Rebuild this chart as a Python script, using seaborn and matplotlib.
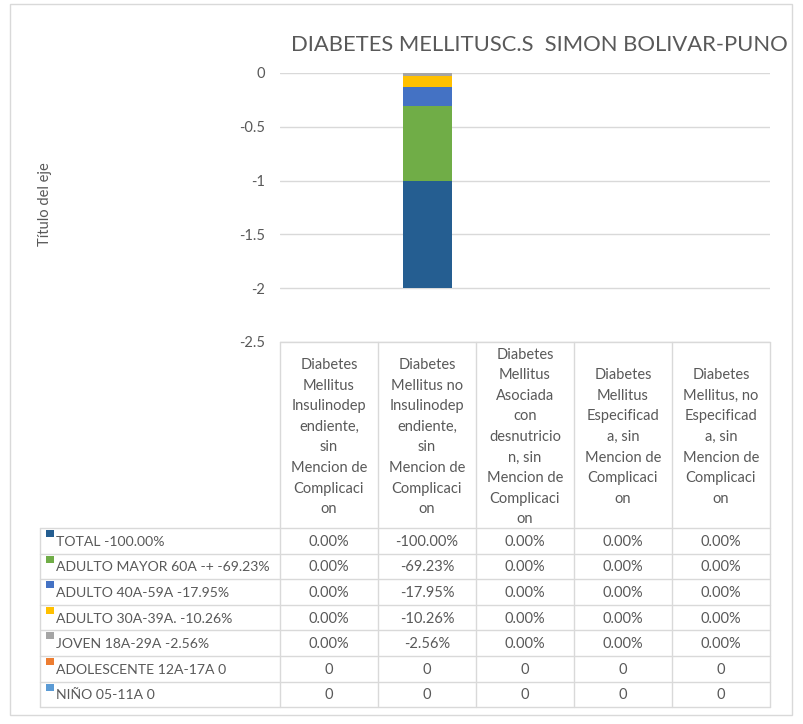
import numpy as np
import pandas as pd
import matplotlib
matplotlib.use("Agg")
import matplotlib.pyplot as plt
import matplotlib.transforms as mtransforms
from matplotlib.lines import Line2D
from matplotlib.patches import Rectangle
import seaborn as sns

titulo = "DIABETES MELLITUSC.S  SIMON BOLIVAR-PUNO"
eje_y = "Título del eje"

# etiquetas de categoria (con los cortes de linea de la tabla)
categorias = [
    "Diabetes\nMellitus\nInsulinodep\nendiente,\nsin\nMencion de\nComplicaci\non",
    "Diabetes\nMellitus no\nInsulinodep\nendiente,\nsin\nMencion de\nComplicaci\non",
    "Diabetes\nMellitus\nAsociada\ncon\ndesnutricio\nn, sin\nMencion de\nComplicaci\non",
    "Diabetes\nMellitus\nEspecificad\na, sin\nMencion de\nComplicaci\non",
    "Diabetes\nMellitus, no\nEspecificad\na, sin\nMencion de\nComplicaci\non",
]

series = ["TOTAL -100.00%", "ADULTO MAYOR 60A -+ -69.23%", "ADULTO 40A-59A -17.95%",
          "ADULTO 30A-39A. -10.26%", "JOVEN 18A-29A -2.56%",
          "ADOLESCENTE 12A-17A 0", "NIÑO 05-11A 0"]

total = [0.0, -1.0, 0.0, 0.0, 0.0]
adulto_mayor = [0.0, -0.6923, 0.0, 0.0, 0.0]
adulto_40_59 = [0.0, -0.1795, 0.0, 0.0, 0.0]
adulto_30_39 = [0.0, -0.1026, 0.0, 0.0, 0.0]
joven = [0.0, -0.0256, 0.0, 0.0, 0.0]
adolescente = [0, 0, 0, 0, 0]
nino = [0, 0, 0, 0, 0]

es_porcentaje = [True, True, True, True, True, False, False]
colores = ["#255E91", "#70AD47", "#4472C4", "#FFC000", "#A5A5A5", "#ED7D31", "#5B9BD5"]

y_ticks = [0, -0.5, -1, -1.5, -2, -2.5]
y_labels = ["0", "-0.5", "-1", "-1.5", "-2", "-2.5"]

sns.set_style("white")
plt.rcParams["font.family"] = ["Lato", "DejaVu Sans"]
gris = "#595959"
linea = "#D9D9D9"

W, H = 804, 724
fig = plt.figure(figsize=(W / 100, H / 100), dpi=100)

# marco del grafico
fig.add_artist(Rectangle((10 / W, 1 - 715 / H), 782 / W, 711 / H, transform=fig.transFigure,
                         fill=False, edgecolor=linea, linewidth=1))

ax = fig.add_axes([280 / W, 1 - 342 / H, 490 / W, 269 / H])

valores = np.array([total, adulto_mayor, adulto_40_59, adulto_30_39, joven, adolescente, nino], dtype=float)
# Excel apila desde la ultima serie (NIÑO) hacia abajo
acumulado = np.cumsum(valores[::-1], axis=0)[::-1]

for i in range(len(series)):
    df = pd.DataFrame({"cat": np.arange(len(categorias)), "valor": acumulado[i]})
    sns.barplot(data=df, x="cat", y="valor", color=colores[i], saturation=1,
                width=0.5, linewidth=0, ax=ax, zorder=2)

ax.set_xlim(-0.5, len(categorias) - 0.5)
ax.set_ylim(-2.5, 0)
ax.set_yticks(y_ticks)
ax.set_yticklabels(y_labels)
ax.tick_params(axis="y", length=0, pad=11, labelsize=10.5, labelcolor=gris)
ax.set_xticks([])
ax.set_xlabel("")
ax.set_ylabel("")
ax.grid(axis="y", color=linea, linewidth=1, zorder=0)
ax.set_axisbelow(True)
for s in ax.spines.values():
    s.set_visible(False)

fig.text(539 / W, 1 - 45 / H, titulo, ha="center", va="center", fontsize=15.8, color=gris)
fig.text(45 / W, 1 - 204 / H, eje_y, ha="center", va="center", rotation=90, fontsize=10.5, color=gris)

# tabla de datos
blend = mtransforms.blended_transform_factory(ax.transData, fig.transFigure)
top_tabla, top_filas, alto_fila = 342, 528, 25.6
bordes = [k - 0.5 for k in range(len(categorias) + 1)]

def fy(y):
    return 1 - y / H

bottom_tabla = top_filas + alto_fila * len(series)
for b in bordes:
    fig.add_artist(Line2D([b, b], [fy(top_tabla), fy(bottom_tabla)], transform=blend, color=linea, lw=1))
fig.add_artist(Line2D([bordes[0], bordes[-1]], [fy(top_tabla)] * 2, transform=blend, color=linea, lw=1))
fig.add_artist(Line2D([40 / W, 40 / W], [fy(top_filas), fy(bottom_tabla)], transform=fig.transFigure, color=linea, lw=1))
x_der = ax.transData.transform((bordes[-1], 0))[0] / W
for r in range(len(series) + 1):
    y = fy(top_filas + alto_fila * r)
    fig.add_artist(Line2D([40 / W, x_der], [y, y], transform=fig.transFigure, color=linea, lw=1))

for k, cat in enumerate(categorias):
    fig.text(k, fy((top_tabla + top_filas) / 2 + 2), cat, transform=blend, ha="center", va="center",
             fontsize=10.5, color=gris, linespacing=1.6)

for r, nombre in enumerate(series):
    y0 = top_filas + alto_fila * r
    fig.add_artist(Rectangle((46 / W, fy(y0 + 9)), 8 / W, 7 / H, transform=fig.transFigure,
                             facecolor=colores[r], edgecolor="none"))
    fig.text(56 / W, fy(y0 + alto_fila / 2 + 1), nombre, ha="left", va="center", fontsize=10.1, color=gris)
    for k in range(len(categorias)):
        v = valores[r, k]
        txt = f"{v * 100 + 0.0:.2f}%" if es_porcentaje[r] else f"{v:g}"
        fig.text(k, fy(y0 + alto_fila / 2 + 1), txt, transform=blend, ha="center", va="center",
                 fontsize=10.5, color=gris)

fig.savefig("out.png", dpi=100)
